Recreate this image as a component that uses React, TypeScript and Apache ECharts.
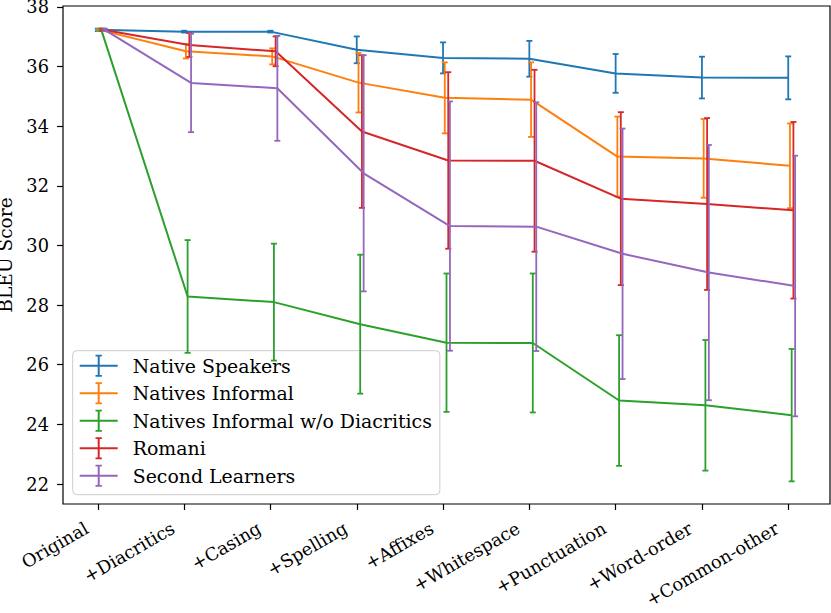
import React, { useEffect, useRef } from "react";
import * as echarts from "echarts";

const categories = ["Original", "+Diacritics", "+Casing", "+Spelling", "+Affixes", "+Whitespace", "+Punctuation", "+Word-order", "+Common-other"];
const seriesNames = ["Native Speakers", "Natives Informal", "Natives Informal w/o Diacritics", "Romani", "Second Learners"];
const colors = ["#1f77b4", "#ff7f0e", "#2ca02c", "#d62728", "#9467bd"];

const nativeSpeakers = [37.23, 37.17, 37.17, 36.56, 36.29, 36.26, 35.77, 35.63, 35.62];
const nativeSpeakersErr = [0.04, 0.03, 0.03, 0.45, 0.52, 0.6, 0.65, 0.7, 0.72];
const nativesInformal = [37.23, 36.51, 36.34, 35.46, 34.95, 34.89, 32.98, 32.92, 32.67];
const nativesInformalErr = [0.04, 0.24, 0.27, 1.0, 1.19, 1.25, 1.34, 1.32, 1.42];
const noDiacritics = [37.23, 28.29, 28.1, 27.36, 26.74, 26.73, 24.8, 24.64, 24.31];
const noDiacriticsErr = [0.04, 1.89, 1.96, 2.33, 2.32, 2.33, 2.19, 2.19, 2.22];
const romani = [37.23, 36.72, 36.51, 33.82, 32.85, 32.84, 31.57, 31.39, 31.18];
const romaniErr = [0.04, 0.4, 0.5, 2.56, 2.96, 3.05, 2.9, 2.88, 2.96];
const secondLearners = [37.23, 35.45, 35.27, 32.42, 30.65, 30.63, 29.72, 29.09, 28.64];
const secondLearnersErr = [0.04, 1.65, 1.76, 3.96, 4.18, 4.17, 4.2, 4.28, 4.37];

const xOffsets = [0, 0.02, 0.04, 0.06, 0.08];
const yTicks = [22, 24, 26, 28, 30, 32, 34, 36, 38];
const xTicks = [0, 1, 2, 3, 4, 5, 6, 7, 8];

const means = [nativeSpeakers, nativesInformal, noDiacritics, romani, secondLearners];
const errs = [nativeSpeakersErr, nativesInformalErr, noDiacriticsErr, romaniErr, secondLearnersErr];

const FONT = "'DejaVu Serif', serif";
const FS = 17.8;
const LFS = 18.9;

export default function App() {
  const ref = useRef<HTMLDivElement>(null);
  useEffect(() => {
    if (!ref.current) return;
    const chart = echarts.init(ref.current, undefined, { renderer: "svg" });
    const series: any[] = [];
    seriesNames.forEach((name, si) => {
      const color = colors[si];
      const off = xOffsets[si];
      series.push({
        name,
        type: "line",
        data: categories.map((_, i) => [i + off, means[si][i]]),
        symbol: "none",
        showSymbol: false,
        lineStyle: { color, width: 2 },
        itemStyle: { color },
        z: 2 + si,
      });
      series.push({
        name,
        type: "custom",
        data: categories.map((_, i) => [i + off, means[si][i] - errs[si][i], means[si][i] + errs[si][i]]),
        encode: { x: 0, y: [1, 2] },
        itemStyle: { color },
        z: 2 + si,
        renderItem: (params: any, api: any) => {
          const x = api.value(0);
          const lo = api.value(1);
          const hi = api.value(2);
          const p1 = api.coord([x, hi]);
          const p2 = api.coord([x, lo]);
          const w = 3;
          const st = { stroke: color, lineWidth: 1.8 };
          return {
            type: "group",
            children: [
              { type: "line", shape: { x1: p1[0], y1: p1[1], x2: p2[0], y2: p2[1] }, style: st },
              { type: "line", shape: { x1: p1[0] - w, y1: p1[1], x2: p1[0] + w, y2: p1[1] }, style: st },
              { type: "line", shape: { x1: p2[0] - w, y1: p2[1], x2: p2[0] + w, y2: p2[1] }, style: st },
            ],
          };
        },
      });
    });

    chart.setOption({
      animation: false,
      backgroundColor: "#ffffff",
      textStyle: { fontFamily: FONT, color: "#000" },
      grid: {
        left: 63,
        right: 1,
        top: 6,
        bottom: 109,
        containLabel: false,
        outerBoundsMode: "none",
        show: true,
        borderColor: "#000000",
        borderWidth: 1.2,
        backgroundColor: "transparent",
      },
      xAxis: {
        type: "value",
        min: -0.404,
        max: 8.484,
        position: "bottom",
        splitLine: { show: false },
        axisLine: { show: false, onZero: false },
        axisTick: { show: true, customValues: xTicks, length: 6, lineStyle: { color: "#000", width: 1.2 } },
        axisLabel: {
          customValues: xTicks,
          formatter: (v: number) => categories[Math.round(v)] ?? "",
          rotate: 30,
          margin: 16,
          padding: [0, 13, 0, 0],
          color: "#000",
          fontFamily: FONT,
          fontSize: FS,
        },
      },
      yAxis: {
        type: "value",
        min: 21.33,
        max: 38.03,
        position: "left",
        name: "BLEU Score",
        nameLocation: "middle",
        nameGap: 46,
        nameTextStyle: { color: "#000", fontFamily: FONT, fontSize: 18.6, lineHeight: 15 },
        splitLine: { show: false },
        axisLine: { show: false, onZero: false },
        axisTick: { show: true, customValues: yTicks, length: 6, lineStyle: { color: "#000", width: 1.2 } },
        axisLabel: {
          customValues: yTicks,
          margin: 14,
          lineHeight: 15,
          padding: [7, 0, 0, 0],
          color: "#000",
          fontFamily: FONT,
          fontSize: FS,
        },
      },
      legend: {
        orient: "vertical",
        left: 72.7,
        top: 350.7,
        data: seriesNames,
        icon: "path://M0,10H38V12H0Z M18,1H20V21H18Z M15.8,0H22.2V1.8H15.8Z M15.8,20.2H22.2V22H15.8Z M48,11",
        itemWidth: 48,
        itemHeight: 22,
        itemGap: 5.5,
        padding: [4, 8, 8, 7],
        backgroundColor: "rgba(255,255,255,0.8)",
        borderColor: "#cccccc",
        borderWidth: 1,
        borderRadius: 4,
        itemStyle: { borderWidth: 0 },
        textStyle: { color: "#000", fontFamily: FONT, fontSize: LFS },
        selectedMode: false,
      },
      series,
    });
    return () => chart.dispose();
  }, []);
  return <div ref={ref} style={{ position: "fixed", left: 0, top: 0, width: 831, height: 613 }} />;
}
